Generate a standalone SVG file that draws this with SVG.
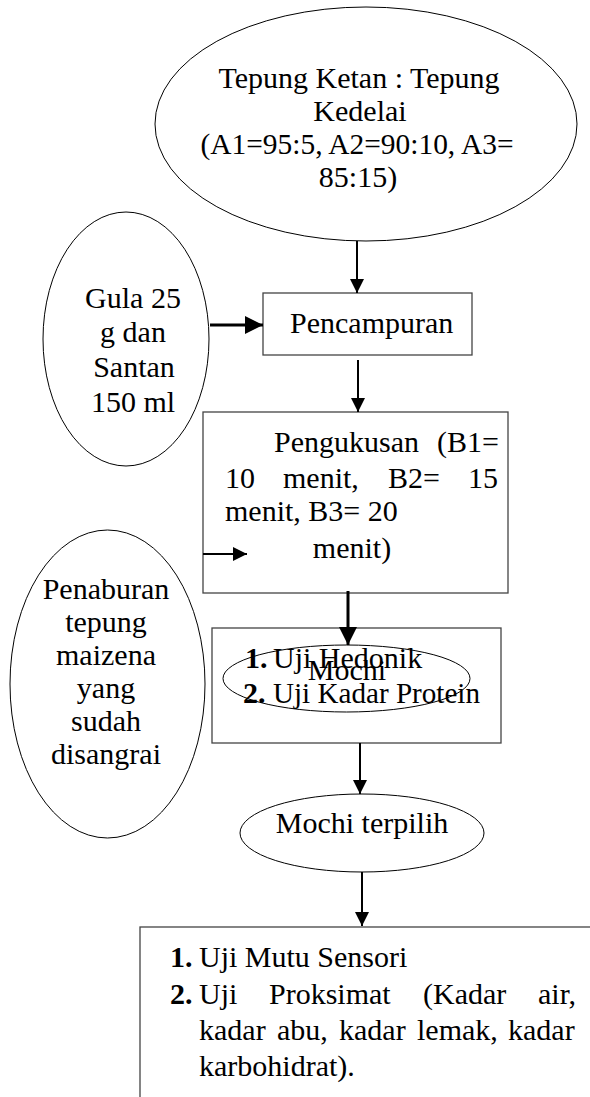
<svg xmlns="http://www.w3.org/2000/svg" width="590" height="1097" viewBox="0 0 590 1097">
<style>
  text { font-family: "Liberation Serif", "Times New Roman", serif; font-size: 30px; fill: #000; }
  .c { text-anchor: middle; }
  .num { font-weight: bold; }
  .ell { fill: #fff; stroke: #000; stroke-width: 1; }
  .ell2 { fill: none; stroke: #000; stroke-width: 1; }
  .box { fill: #fff; stroke: #444; stroke-width: 1.3; }
  .thin { stroke: #000; stroke-width: 2; fill: none; }
  .thick { stroke: #000; stroke-width: 3; fill: none; }
</style>
<defs>
  <marker id="arr" markerUnits="userSpaceOnUse" markerWidth="14" markerHeight="14" refX="14" refY="7" orient="auto" viewBox="0 0 14 14">
    <path d="M0,0 L14,7 L0,14 z" fill="#000"/>
  </marker>
  <marker id="arrB" markerUnits="userSpaceOnUse" markerWidth="18" markerHeight="18" refX="18" refY="9" orient="auto" viewBox="0 0 18 18">
    <path d="M0,0 L18,9 L0,18 z" fill="#000"/>
  </marker>
</defs>
<rect width="590" height="1097" fill="#fff"/>

<g id="node-tepung">
  <ellipse class="ell" cx="366" cy="124" rx="211" ry="117"/>
  <text class="c" x="359" y="88">Tepung Ketan : Tepung</text>
  <text class="c" x="360" y="121">Kedelai</text>
  <text class="c" x="357" y="154" textLength="313" lengthAdjust="spacingAndGlyphs">(A1=95:5, A2=90:10, A3=</text>
  <text class="c" x="358" y="187">85:15)</text>
</g>

<g id="node-gula">
  <ellipse class="ell" cx="126" cy="339" rx="83" ry="127"/>
  <text class="c" x="133" y="308">Gula 25</text>
  <text class="c" x="133" y="342">g dan</text>
  <text class="c" x="134" y="377">Santan</text>
  <text class="c" x="133" y="412">150 ml</text>
</g>

<g id="node-pencampuran">
  <rect class="box" x="263" y="293" width="209" height="62"/>
  <text x="290" y="333">Pencampuran</text>
</g>

<g id="node-pengukusan">
  <rect class="box" x="203" y="412" width="305" height="181"/>
  <text y="452"><tspan x="274">Pengukusan</tspan> <tspan x="437">(B1=</tspan></text>
  <text y="488"><tspan x="225">10</tspan> <tspan x="283">menit,</tspan> <tspan x="388">B2=</tspan> <tspan x="468">15</tspan></text>
  <text x="225" y="521">menit, B3= 20</text>
  <text class="c" x="352" y="558">menit)</text>
</g>

<g id="node-penaburan">
  <ellipse class="ell" cx="107.5" cy="684" rx="97.5" ry="154"/>
  <text class="c" x="106" y="599">Penaburan</text>
  <text class="c" x="106" y="632">tepung</text>
  <text class="c" x="106" y="665">maizena</text>
  <text class="c" x="106" y="698">yang</text>
  <text class="c" x="106" y="731">sudah</text>
  <text class="c" x="106" y="764">disangrai</text>
</g>

<g id="node-uji1">
  <rect class="box" x="212" y="628" width="289" height="115"/>
  <text class="num" x="245" y="668">1.</text>
  <text x="273" y="668">Uji Hedonik</text>
  <text class="num" x="243" y="703">2.</text>
  <text x="273" y="703" textLength="207" lengthAdjust="spacingAndGlyphs">Uji Kadar Protein</text>
</g>

<g id="node-mochi">
  <ellipse class="ell2" cx="346.5" cy="678.5" rx="123.5" ry="33.5"/>
  <text class="c" x="347" y="680">Mochi</text>
</g>

<g id="node-mochi-terpilih">
  <ellipse class="ell" cx="362" cy="833" rx="122" ry="39"/>
  <text class="c" x="362" y="833">Mochi terpilih</text>
</g>

<g id="node-uji2">
  <rect class="box" x="140" y="927" width="500" height="300"/>
  <text class="num" x="170" y="967">1.</text>
  <text x="199" y="967">Uji Mutu Sensori</text>
  <text class="num" x="170" y="1004">2.</text>
  <text y="1004"><tspan x="199">Uji</tspan> <tspan x="269">Proksimat</tspan> <tspan x="423">(Kadar</tspan> <tspan x="538">air,</tspan></text>
  <text y="1040"><tspan x="199">kadar</tspan> <tspan x="277">abu,</tspan> <tspan x="339">kadar</tspan> <tspan x="417">lemak,</tspan> <tspan x="508">kadar</tspan></text>
  <text x="199" y="1076">karbohidrat).</text>
</g>

<g id="connectors">
  <line class="thin" x1="357" y1="241" x2="357" y2="293" marker-end="url(#arr)"/>
  <line class="thick" x1="210" y1="325" x2="263" y2="325" marker-end="url(#arrB)"/>
  <line class="thin" x1="358" y1="360" x2="358" y2="412" marker-end="url(#arr)"/>
  <line class="thin" x1="203" y1="554" x2="247" y2="554" marker-end="url(#arr)"/>
  <line class="thick" x1="348" y1="591" x2="348" y2="645" marker-end="url(#arrB)"/>
  <line class="thin" x1="360" y1="743" x2="360" y2="794" marker-end="url(#arr)"/>
  <line class="thin" x1="362" y1="872" x2="362" y2="926" marker-end="url(#arr)"/>
</g>
</svg>
